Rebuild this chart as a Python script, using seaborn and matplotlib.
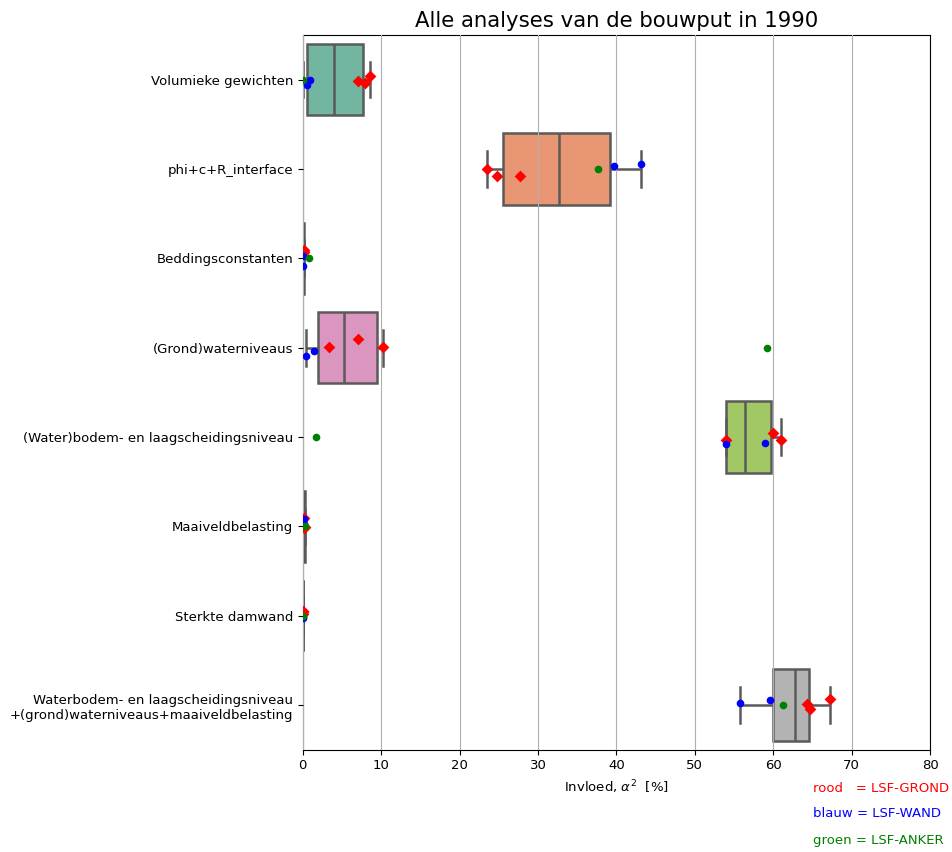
import numpy as np
import pandas as pd
import matplotlib
matplotlib.use("Agg")
import matplotlib.pyplot as plt
import seaborn as sns

# Parameter groups analysed
categories = [
    "Volumieke gewichten",
    "phi+c+R_interface",
    "Beddingsconstanten",
    "(Grond)waterniveaus",
    "(Water)bodem- en laagscheidingsniveau",
    "Maaiveldbelasting",
    "Sterkte damwand",
    "Waterbodem- en laagscheidingsniveau\n+(grond)waterniveaus+maaiveldbelasting",
]

# Influence alpha^2 [%] per limit state function, one inner list per category
lsf_grond = [
    [7.0, 7.9, 8.6],
    [23.5, 24.8, 27.7],
    [0.1, 0.0, 0.1],
    [3.4, 7.1, 10.2],
    [54.0, 60.0, 61.0],
    [0.15, 0.1, 0.25],
    [0.0, 0.0, 0.0],
    [64.7, 64.3, 67.2],
]
lsf_wand = [
    [0.9, 0.5],
    [39.7, 43.1],
    [0.0, 0.05],
    [0.4, 1.4],
    [54.0, 58.9],
    [0.2, 0.1],
    [0.0, 0.0],
    [55.8, 59.6],
]
lsf_anker = [
    [0.0],
    [37.6],
    [0.75],
    [59.2],
    [1.7],
    [0.3],
    [0.0],
    [61.2],
]

rows = []
for cat, g, w, a in zip(categories, lsf_grond, lsf_wand, lsf_anker):
    rows += [(cat, v, "GROND") for v in g]
    rows += [(cat, v, "WAND") for v in w]
    rows += [(cat, v, "ANKER") for v in a]
df = pd.DataFrame(rows, columns=["parameter", "invloed", "lsf"])

plt.rcParams["font.size"] = 9.5

fig = plt.figure(figsize=(9.52, 8.52), dpi=100)
ax = fig.add_axes([0.318, 0.120, 0.659, 0.839])

sns.boxplot(data=df, x="invloed", y="parameter", order=categories,
            hue="parameter", hue_order=categories, palette="Set2",
            legend=False, showfliers=False, orient="h",
            linecolor="#5a5a5a", linewidth=1.8, ax=ax)

np.random.seed(3)
styles = {"GROND": ("red", "D", 6), "WAND": ("blue", "o", 5.5),
          "ANKER": ("green", "o", 5.5)}
for lsf, (col, mk, sz) in styles.items():
    sns.stripplot(data=df[df["lsf"] == lsf], x="invloed", y="parameter",
                  order=categories, color=col, marker=mk, size=sz,
                  jitter=0.1, orient="h", zorder=3, ax=ax)

ax.set_xlim(0, 80)
ax.set_xticks(np.arange(0, 81, 10))
ax.tick_params(labelsize=9.5)
ax.grid(axis="x", color="#b0b0b0", linewidth=0.8)
ax.set_axisbelow(False)
ax.set_ylabel("")
ax.set_xlabel(r"Invloed, $\alpha^2$  [%]", fontsize=9.5)
ax.set_title("Alle analyses van de bouwput in 1990", fontsize=15.3)

fig.text(0.854, 0.075, "rood   = LSF-GROND", color="red", va="center", fontsize=9.5)
fig.text(0.854, 0.045, "blauw = LSF-WAND", color="blue", va="center", fontsize=9.5)
fig.text(0.854, 0.013, "groen = LSF-ANKER", color="green", va="center", fontsize=9.5)

fig.savefig("out.png", dpi=100)
